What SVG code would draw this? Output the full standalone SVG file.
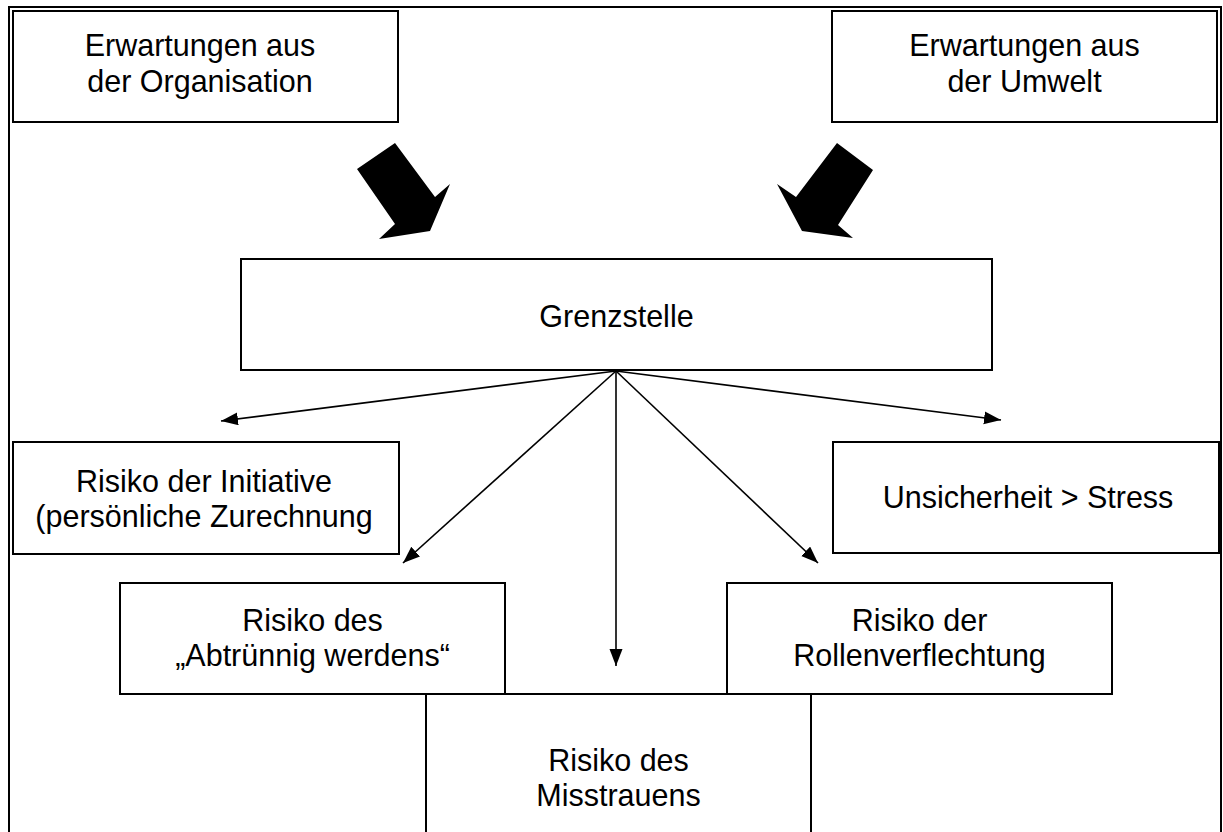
<svg xmlns="http://www.w3.org/2000/svg" width="1223" height="832" viewBox="0 0 1223 832">
  <style>
    .box { fill: #ffffff; stroke: #000000; stroke-width: 2; }
    .frame { fill: none; stroke: #000000; stroke-width: 2; }
    .lbl { font-family: "Liberation Sans", Arial, sans-serif; font-size: 30.5px; fill: #000000; text-anchor: middle; }
    .conn { stroke: #000000; stroke-width: 1.6; fill: none; marker-end: url(#ah); }
    .block { fill: #000000; stroke: none; }
  </style>
  <defs>
    <marker id="ah" markerUnits="userSpaceOnUse" markerWidth="18" markerHeight="14" refX="17" refY="6.5" orient="auto">
      <path d="M0,0 L17,6.5 L0,13 z" fill="#000000"/>
    </marker>
  </defs>
  <rect width="1223" height="832" fill="#ffffff"/>
  <rect class="frame" x="9" y="7" width="1212" height="900"/>

  <g id="connectors">
    <polygon class="block" points="357,169 395,143 435,197 450,184 430,231 379,239 395,224"/>
    <polygon class="block" points="873,170 837,143 796,197 777,184 802,231 853,238 838,225"/>
    <line class="conn" x1="616" y1="371" x2="221" y2="421"/>
    <line class="conn" x1="616" y1="371" x2="1001" y2="420"/>
    <line class="conn" x1="616" y1="371" x2="403" y2="563"/>
    <line class="conn" x1="616" y1="371" x2="818" y2="563"/>
    <line class="conn" x1="616" y1="371" x2="616" y2="666"/>
  </g>

  <g id="org">
    <rect class="box" x="13" y="11" width="385" height="111"/>
    <text class="lbl" x="200" y="56">Erwartungen aus</text>
    <text class="lbl" x="200" y="92">der Organisation</text>
  </g>
  <g id="umwelt">
    <rect class="box" x="832" y="11" width="385" height="111"/>
    <text class="lbl" x="1024.5" y="56">Erwartungen aus</text>
    <text class="lbl" x="1024.5" y="92">der Umwelt</text>
  </g>
  <g id="grenzstelle">
    <rect class="box" x="241" y="259" width="751" height="111"/>
    <text class="lbl" x="616.5" y="327">Grenzstelle</text>
  </g>
  <g id="initiative">
    <rect class="box" x="13" y="442" width="386" height="112"/>
    <text class="lbl" x="204" y="492">Risiko der Initiative</text>
    <text class="lbl" x="204" y="527">(persönliche Zurechnung</text>
  </g>
  <g id="stress">
    <rect class="box" x="833" y="442" width="386" height="111"/>
    <text class="lbl" x="1028" y="508">Unsicherheit &gt; Stress</text>
  </g>
  <g id="abtruennig">
    <rect class="box" x="120" y="583" width="385" height="111"/>
    <text class="lbl" x="312.5" y="631">Risiko des</text>
    <text class="lbl" x="312.5" y="666">„Abtrünnig werdens“</text>
  </g>
  <g id="rollen">
    <rect class="box" x="727" y="583" width="385" height="111"/>
    <text class="lbl" x="919.5" y="631">Risiko der</text>
    <text class="lbl" x="919.5" y="666">Rollenverflechtung</text>
  </g>
  <g id="misstrauen">
    <rect class="box" x="426" y="694" width="385" height="160"/>
    <text class="lbl" x="618.5" y="771">Risiko des</text>
    <text class="lbl" x="618.5" y="806">Misstrauens</text>
  </g>
</svg>
